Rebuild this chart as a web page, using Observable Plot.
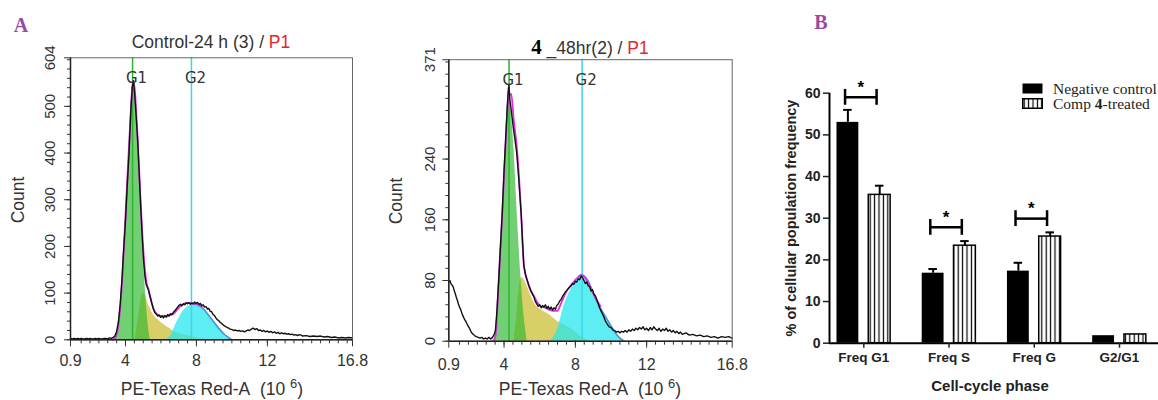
<!DOCTYPE html>
<html>
<head>
<meta charset="utf-8">
<script src="https://cdn.jsdelivr.net/npm/d3@7"></script>
<script src="https://cdn.jsdelivr.net/npm/@observablehq/plot@0.6"></script>
<style>
  body { margin: 0; background: #fff; }
  #wrap { position: relative; width: 1158px; height: 400px; overflow: hidden; font-family: "Liberation Sans", Arial, sans-serif; background: #fff; }
  #wrap svg { position: absolute; top: 0; }
</style>
</head>
<body>
<div id="wrap"></div>
<script>
// ---------------- DATA ----------------
// Panel A (left): Control-24 h  — [PE-Texas Red-A (10^6), count]
const ctrlRaw = [[0.9,3],[1.0,2],[1.1,3],[1.2,2],[1.3,3],[1.4,2],[1.5,3],[1.6,2],[1.7,2],[1.8,3],[1.9,2],[2.0,3],[2.1,2],[2.2,2],[2.3,3],[2.4,2],[2.5,3],[2.6,2],[2.7,2],[2.8,3],[2.9,3],[3.0,2],[3.1,4],[3.2,3],[3.3,5],[3.4,8],[3.5,18],[3.6,38],[3.7,75],[3.8,128],[3.9,195],[4.0,255],[4.1,330],[4.2,400],[4.3,490],[4.38,540],[4.45,555],[4.52,525],[4.6,480],[4.69,425],[4.78,350],[4.86,285],[4.95,215],[5.02,170],[5.1,135],[5.17,118],[5.24,112],[5.3,106],[5.36,96],[5.42,88],[5.5,76],[5.58,66],[5.66,58],[5.74,55],[5.82,51],[5.9,53],[5.98,48],[6.06,51],[6.14,47],[6.22,52],[6.3,49],[6.38,54],[6.46,51],[6.54,56],[6.62,54],[6.7,59],[6.78,62],[6.86,66],[6.94,70],[7.02,74],[7.1,76],[7.18,73],[7.26,77],[7.34,75],[7.42,79],[7.5,77],[7.58,80],[7.66,76],[7.74,79],[7.82,77],[7.9,81],[7.98,78],[8.06,80],[8.14,76],[8.22,78],[8.3,73],[8.38,75],[8.46,70],[8.54,71],[8.62,66],[8.7,67],[8.78,61],[8.86,60],[8.94,54],[9.02,52],[9.1,47],[9.18,43],[9.26,41],[9.34,37],[9.42,35],[9.5,32],[9.58,30],[9.66,28],[9.74,26],[9.82,25],[9.9,23],[10.0,22],[10.1,20],[10.2,21],[10.3,19],[10.4,20],[10.5,18],[10.6,19],[10.7,17],[10.8,19],[10.9,21],[11.0,20],[11.1,23],[11.2,25],[11.3,22],[11.4,24],[11.5,20],[11.6,21],[11.7,18],[11.8,20],[11.9,17],[12.0,19],[12.1,16],[12.2,18],[12.3,15],[12.4,17],[12.5,14],[12.6,16],[12.7,13],[12.8,15],[12.9,13],[13.0,14],[13.1,12],[13.2,13],[13.3,11],[13.4,12],[13.5,10],[13.6,11],[13.7,9],[13.8,11],[13.9,10],[14.0,8],[14.2,9],[14.4,7],[14.6,8],[14.8,7],[15.0,8],[15.2,6],[15.4,7],[15.6,5],[15.8,6],[16.0,4],[16.2,5],[16.4,4],[16.6,5],[16.8,4]];
const ctrlFit = [[3.25,0],[3.42,4],[3.6,31],[3.83,138],[4.02,281],[4.21,423],[4.45,555],[4.69,428],[4.86,290],[5.07,160],[5.2,120],[5.3,108],[5.4,92],[5.5,76],[5.6,64],[5.75,56],[5.9,52],[6.1,51],[6.3,50],[6.5,53],[6.72,56],[6.9,64],[7.1,72],[7.29,77],[7.5,79],[7.7,78],[7.9,77],[8.1,76],[8.3,72]];
const ctrlG1 = [[3.25,0],[3.42,4],[3.6,31],[3.83,138],[4.02,281],[4.21,423],[4.45,552],[4.69,423],[4.86,281],[5.07,138],[5.2,66],[5.3,25],[5.4,0]];
const ctrlS = [[4.55,0],[4.7,40],[4.85,80],[5.02,100],[5.15,92],[5.3,75],[5.45,62],[5.6,52],[5.8,44],[6.16,33],[6.5,24],[6.72,18],[7.0,14],[7.29,11],[7.6,8],[7.85,6],[8.2,3],[8.6,0]];
const ctrlG2 = [[6.3,0],[6.6,12],[6.9,38],[7.29,63],[7.6,73],[7.85,76],[8.1,74],[8.4,66],[8.7,52],[8.98,38],[9.25,25],[9.54,13],[9.8,5],[10.0,0]];
const ctrlGates = {G1: 4.4, G2: 7.72};
const ctrlYTicks = [0, 100, 200, 300, 400, 500, 604];

// Panel A (right): compound 4, 48 hr
const trtRaw = [[0.9,78],[0.96,80],[1.02,76],[1.08,74],[1.14,72],[1.2,67],[1.26,63],[1.32,58],[1.38,54],[1.44,49],[1.5,45],[1.56,42],[1.62,38],[1.68,34],[1.74,31],[1.8,28],[1.86,26],[1.92,23],[1.98,20],[2.04,18],[2.1,15],[2.16,12],[2.22,10],[2.28,9],[2.36,7],[2.45,6],[2.55,5],[2.65,4],[2.75,5],[2.85,3],[2.95,4],[3.05,3],[3.15,5],[3.25,3],[3.35,5],[3.45,9],[3.52,15],[3.6,40],[3.7,80],[3.8,125],[3.9,170],[4.0,225],[4.08,262],[4.16,300],[4.22,325],[4.27,337],[4.33,318],[4.4,305],[4.5,285],[4.6,268],[4.7,250],[4.8,222],[4.88,195],[4.96,168],[5.04,130],[5.11,100],[5.2,88],[5.3,80],[5.4,73],[5.5,67],[5.6,62],[5.68,58],[5.76,52],[5.84,49],[5.92,46],[6.0,48],[6.08,44],[6.16,47],[6.24,45],[6.32,48],[6.4,43],[6.48,46],[6.56,42],[6.64,45],[6.72,41],[6.8,44],[6.88,42],[6.96,47],[7.04,49],[7.12,53],[7.2,55],[7.28,59],[7.36,62],[7.44,65],[7.52,67],[7.6,69],[7.68,71],[7.76,73],[7.84,76],[7.92,75],[8.0,79],[8.08,78],[8.16,82],[8.24,81],[8.32,86],[8.4,84],[8.48,80],[8.56,76],[8.64,78],[8.72,73],[8.8,72],[8.88,66],[8.96,68],[9.04,62],[9.12,60],[9.2,55],[9.28,50],[9.36,44],[9.44,40],[9.52,36],[9.6,32],[9.7,26],[9.8,22],[9.9,19],[10.0,18],[10.1,15],[10.2,14],[10.3,12],[10.4,13],[10.5,11],[10.6,13],[10.7,12],[10.8,14],[10.9,12],[11.0,15],[11.1,13],[11.2,16],[11.3,14],[11.4,17],[11.5,15],[11.6,18],[11.7,16],[11.8,19],[11.9,15],[12.0,17],[12.1,14],[12.2,18],[12.3,15],[12.4,19],[12.5,16],[12.6,14],[12.7,17],[12.8,13],[12.9,16],[13.0,14],[13.1,17],[13.2,13],[13.3,15],[13.4,12],[13.5,14],[13.6,11],[13.7,13],[13.8,10],[13.9,12],[14.0,9],[14.2,11],[14.4,8],[14.6,9],[14.8,7],[15.0,8],[15.2,6],[15.4,7],[15.6,5],[15.8,6],[16.0,4],[16.2,6],[16.4,5],[16.6,6],[16.8,4]];
const trtFit = [[3.4,0],[3.52,7],[3.7,80],[3.9,168],[4.08,256],[4.25,320],[4.4,326],[4.55,290],[4.74,250],[4.96,168],[5.11,100],[5.3,80],[5.5,66],[5.67,60],[5.85,52],[6.04,46],[6.23,45],[6.5,42],[6.75,40],[6.98,40],[7.2,50],[7.35,58],[7.54,67],[7.9,78],[8.1,83],[8.29,87],[8.5,85],[8.7,78],[8.85,71],[9.1,58],[9.41,46]];
const trtG1 = [[3.3,0],[3.52,7],[3.7,80],[3.9,168],[4.08,256],[4.27,337],[4.4,305],[4.55,256],[4.74,168],[4.96,80],[5.11,36],[5.3,0]];
const trtS = [[4.55,0],[4.7,30],[4.85,70],[5.0,84],[5.15,80],[5.3,72],[5.5,60],[5.7,50],[6.04,42],[6.6,34],[7.0,26],[7.35,22],[7.9,14],[8.4,5],[8.9,0]];
const trtG2 = [[6.6,0],[6.98,14],[7.35,45],[7.73,67],[8.05,80],[8.38,88],[8.7,80],[9.03,62],[9.3,48],[9.6,36],[9.9,24],[10.16,14],[10.45,5],[10.75,0]];
const trtGates = {G1: 4.28, G2: 8.38};
const trtYTicks = [0, 80, 160, 240, 371];

const xTicks = [0.9, 4, 8, 12, 16.8];

// Panel B: cell-cycle bar chart
const phases = ["Freq G1", "Freq S", "Freq G", "G2/G1"];
const negControl = [53.0, 16.8, 17.3, 1.8];
const negControlErr = [3.0, 1.0, 2.0, 0];
const comp4 = [35.6, 23.4, 25.6, 2.1];
const comp4Err = [2.2, 1.1, 1.0, 0];
const sigLevel = [59, 27.8, 29.9, null];
const barYTicks = [0, 10, 20, 30, 40, 50, 60];

// ---------------- DRAWING ----------------
const wrap = document.getElementById("wrap");
const FONT = '"Liberation Sans", Arial, sans-serif';
const SERIF = '"Liberation Serif", "Times New Roman", serif';

function textAt(html, cx, cy, style = {}, rotate = 0) {
  const d = document.createElement("div");
  d.innerHTML = html;
  Object.assign(d.style, {
    position: "absolute", left: cx + "px", top: cy + "px", whiteSpace: "nowrap",
    transform: `translate(-50%,-50%) rotate(${rotate}deg)`, lineHeight: "1"
  }, style);
  wrap.appendChild(d);
}

const pts = a => a.map(([x, c]) => ({x, c}));

function histogram(o) {
  const g2 = pts(o.g2);
  const peak = d3.maxIndex(g2, d => d.c);
  const outline = g2.slice(peak);
  const area = (data, fill, op) => Plot.areaY(pts(data), {x: "x", y: "c", fill, fillOpacity: op, curve: "monotone-x"});
  const svg = Plot.plot({
    width: o.width, height: 400,
    marginTop: o.mt, marginRight: o.mr, marginBottom: o.mb, marginLeft: o.ml,
    style: {fontFamily: FONT, fontSize: "16px", color: "#333", background: "transparent", overflow: "visible"},
    x: {domain: [0.9, 16.8]},
    y: {domain: [0, o.yMax]},
    marks: [
      area(o.s, "#cbbd2e", 0.72),
      area(o.g1, "#30b830", 0.68),
      area(o.g2, "#1ee8ee", 0.72),
      Plot.ruleX([o.gates.G1], {stroke: "#2db52d", strokeWidth: 1.5}),
      Plot.ruleX([o.gates.G2], {stroke: "#3cd8e2", strokeWidth: 1.5}),
      Plot.line(outline, {x: "x", y: "c", stroke: "#4a8fdc", strokeWidth: 1.6, curve: "monotone-x"}),
      Plot.line(pts(o.fit), {x: "x", y: "c", stroke: "#e030e0", strokeWidth: 1.8, curve: "monotone-x"}),
      Plot.line(pts(o.raw), {x: "x", y: "c", stroke: "#111", strokeWidth: 1.4}),
      Plot.text(["G1", "G2"], {x: [o.gates.G1, o.gates.G2], text: d => d, frameAnchor: "top", dy: 15, dx: 4,
        fontFamily: '"DejaVu Sans", sans-serif', fontSize: 15, fill: "#333"}),
      Plot.frame({stroke: "#666", strokeWidth: 1}),
      Plot.ruleX([0.9], {stroke: "#222", strokeWidth: 1.5}),
      Plot.ruleY([0], {stroke: "#222", strokeWidth: 1.5}),
      Plot.axisX({ticks: d3.range(1.5, 16.6, 0.5), tickSize: 4, tickFormat: () => "", label: null}),
      Plot.axisX({ticks: xTicks, tickSize: 7, tickPadding: o.xPad, tickFormat: d => String(d), label: null}),
      Plot.axisY({ticks: d3.range(0, o.yMax, o.yMinor), tickSize: 3, tickFormat: () => "", label: null}),
      Plot.axisY({ticks: o.yTicks, tickSize: 6, tickRotate: -90, tickPadding: o.yPad, tickFormat: d => String(d), label: null, fontSize: 15})
    ]
  });
  svg.style.left = o.left + "px";
  wrap.appendChild(svg);
}

histogram({left: 0, width: 380, mt: 57.3, mr: 28, mb: 60.7, ml: 70, yMax: 604, yTicks: ctrlYTicks, yMinor: 20,
  gates: ctrlGates, raw: ctrlRaw, fit: ctrlFit, g1: ctrlG1, s: ctrlS, g2: ctrlG2, xPad: 8, yPad: 10});
histogram({left: 380, width: 400, mt: 59.2, mr: 48.3, mb: 59.3, ml: 68.3, yMax: 371, yTicks: trtYTicks, yMinor: 16,
  gates: trtGates, raw: trtRaw, fit: trtFit, g1: trtG1, s: trtS, g2: trtG2, xPad: 10, yPad: 8});

// Bar chart
const xr = [-0.4025, 3.4576];
const bars = phases.map((p, i) => ({i, p, neg: negControl[i], negErr: negControlErr[i], comp: comp4[i], compErr: comp4Err[i], sig: sigLevel[i]}));
const negC = d => d.i - 0.1866, compC = d => d.i + 0.1866;
const errNeg = bars.filter(d => d.negErr > 0), errComp = bars.filter(d => d.compErr > 0);
const sig = bars.filter(d => d.sig != null);
const bl = -0.22, br = 0.15;

const barSvg = Plot.plot({
  width: 378, height: 400, marginTop: 92.7, marginBottom: 57.3, marginLeft: 49, marginRight: 0,
  style: {fontFamily: FONT, fontSize: "13px", fontWeight: "bold", color: "#222", background: "transparent", overflow: "visible"},
  x: {domain: xr},
  y: {domain: [0, 60]},
  marks: [
    Plot.rect(bars, {x1: d => d.i - 0.3148, x2: d => d.i - 0.0583, y1: 0, y2: "neg", fill: "#000"}),
    Plot.rect(bars, {x1: d => d.i + 0.0583, x2: d => d.i + 0.3148, y1: 0, y2: "comp", fill: "url(#stripes)", stroke: "#000", strokeWidth: 1.5}),
    Plot.ruleX(errNeg, {x: negC, y1: "neg", y2: d => d.neg + d.negErr, stroke: "#000", strokeWidth: 2}),
    Plot.ruleY(errNeg, {x1: d => negC(d) - 0.05, x2: d => negC(d) + 0.05, y: d => d.neg + d.negErr, stroke: "#000", strokeWidth: 2}),
    Plot.ruleX(errComp, {x: compC, y1: "comp", y2: d => d.comp + d.compErr, stroke: "#000", strokeWidth: 2}),
    Plot.ruleY(errComp, {x1: d => compC(d) - 0.05, x2: d => compC(d) + 0.05, y: d => d.comp + d.compErr, stroke: "#000", strokeWidth: 2}),
    Plot.ruleY(sig, {x1: d => d.i + bl, x2: d => d.i + br, y: "sig", stroke: "#000", strokeWidth: 2.5}),
    Plot.ruleX(sig, {x: d => d.i + bl, y1: d => d.sig - 1.9, y2: d => d.sig + 1.9, stroke: "#000", strokeWidth: 2.5}),
    Plot.ruleX(sig, {x: d => d.i + br, y1: d => d.sig - 1.9, y2: d => d.sig + 1.9, stroke: "#000", strokeWidth: 2.5}),
    Plot.text(sig, {x: d => d.i + (bl + br) / 2, y: "sig", text: () => "*", dy: -10, fontSize: 17, fontWeight: "bold", fill: "#000"}),
    Plot.ruleX([xr[0]], {stroke: "#000", strokeWidth: 2}),
    Plot.ruleY([0], {stroke: "#000", strokeWidth: 2}),
    Plot.axisY({ticks: barYTicks, tickSize: 6, tickPadding: 3, label: null, strokeWidth: 1.5, fontSize: 14}),
    Plot.axisX({ticks: [0, 1, 2, 3], tickFormat: i => phases[i], tickSize: 5, tickPadding: 4, label: null, strokeWidth: 1.5, fontSize: 13.5})
  ]
});
(function addPattern(svg) {
  const ns = "http://www.w3.org/2000/svg";
  const defs = document.createElementNS(ns, "defs");
  const pat = document.createElementNS(ns, "pattern");
  pat.setAttribute("id", "stripes");
  pat.setAttribute("patternUnits", "userSpaceOnUse");
  pat.setAttribute("width", "4.4");
  pat.setAttribute("height", "8");
  const bg = document.createElementNS(ns, "rect");
  bg.setAttribute("width", "4.4"); bg.setAttribute("height", "8"); bg.setAttribute("fill", "#fff");
  const ln = document.createElementNS(ns, "rect");
  ln.setAttribute("x", "1.6"); ln.setAttribute("width", "1.2"); ln.setAttribute("height", "8"); ln.setAttribute("fill", "#000");
  pat.appendChild(bg); pat.appendChild(ln); defs.appendChild(pat);
  svg.insertBefore(defs, svg.firstChild);
})(barSvg);
barSvg.style.left = "780px";
wrap.appendChild(barSvg);

// ---------------- TEXT ----------------
const purple = {fontFamily: SERIF, fontWeight: "bold", fontSize: "20px", color: "#9a4a9e"};
textAt("A", 21, 25, purple);
textAt("B", 821, 22, purple);

const histText = {fontFamily: FONT, fontSize: "17.5px", color: "#333"};
textAt('Control-24 h (3) / <span style="color:#e3262b">P1</span>', 211, 43, histText);
textAt('<span style="font-family:' + SERIF.replace(/"/g, "'") + ';font-weight:bold;font-size:21px;color:#000">4</span> _48hr(2) / <span style="color:#e3262b">P1</span>', 590, 47, histText);
const xTitle = 'PE-Texas Red-A&nbsp; (10 <span style="position:relative;top:-7px;font-size:13px">6</span>)';
textAt(xTitle, 212, 390, histText);
textAt(xTitle, 590, 390, histText);
textAt("Count", 19, 200, histText, -90);
textAt("Count", 397, 201, histText, -90);

const barText = {fontFamily: FONT, fontWeight: "bold", color: "#222"};
textAt("% of cellular population frequency", 791, 218, {...barText, fontSize: "14.5px"}, -90);
textAt("Cell-cycle phase", 990, 385, {...barText, fontSize: "15px"});

// Legend
const leg = document.createElement("div");
Object.assign(leg.style, {position: "absolute", left: "1022px", top: "81px", fontFamily: SERIF, fontSize: "15.5px", color: "#222", lineHeight: "15px"});
leg.innerHTML =
  '<div style="display:flex;align-items:center;height:15px"><svg width="21" height="11" style="position:static"><rect x="0.5" y="0.5" width="20" height="10" fill="#000"/></svg><span style="margin-left:10px">Negative control</span></div>' +
  '<div style="display:flex;align-items:center;height:15px"><svg width="21" height="11" style="position:static"><rect x="0.75" y="0.75" width="19.5" height="9.5" fill="url(#stripes)" stroke="#000" stroke-width="1.5"/></svg><span style="margin-left:10px">Comp <b>4</b>-treated</span></div>';
wrap.appendChild(leg);
</script>
</body>
</html>
